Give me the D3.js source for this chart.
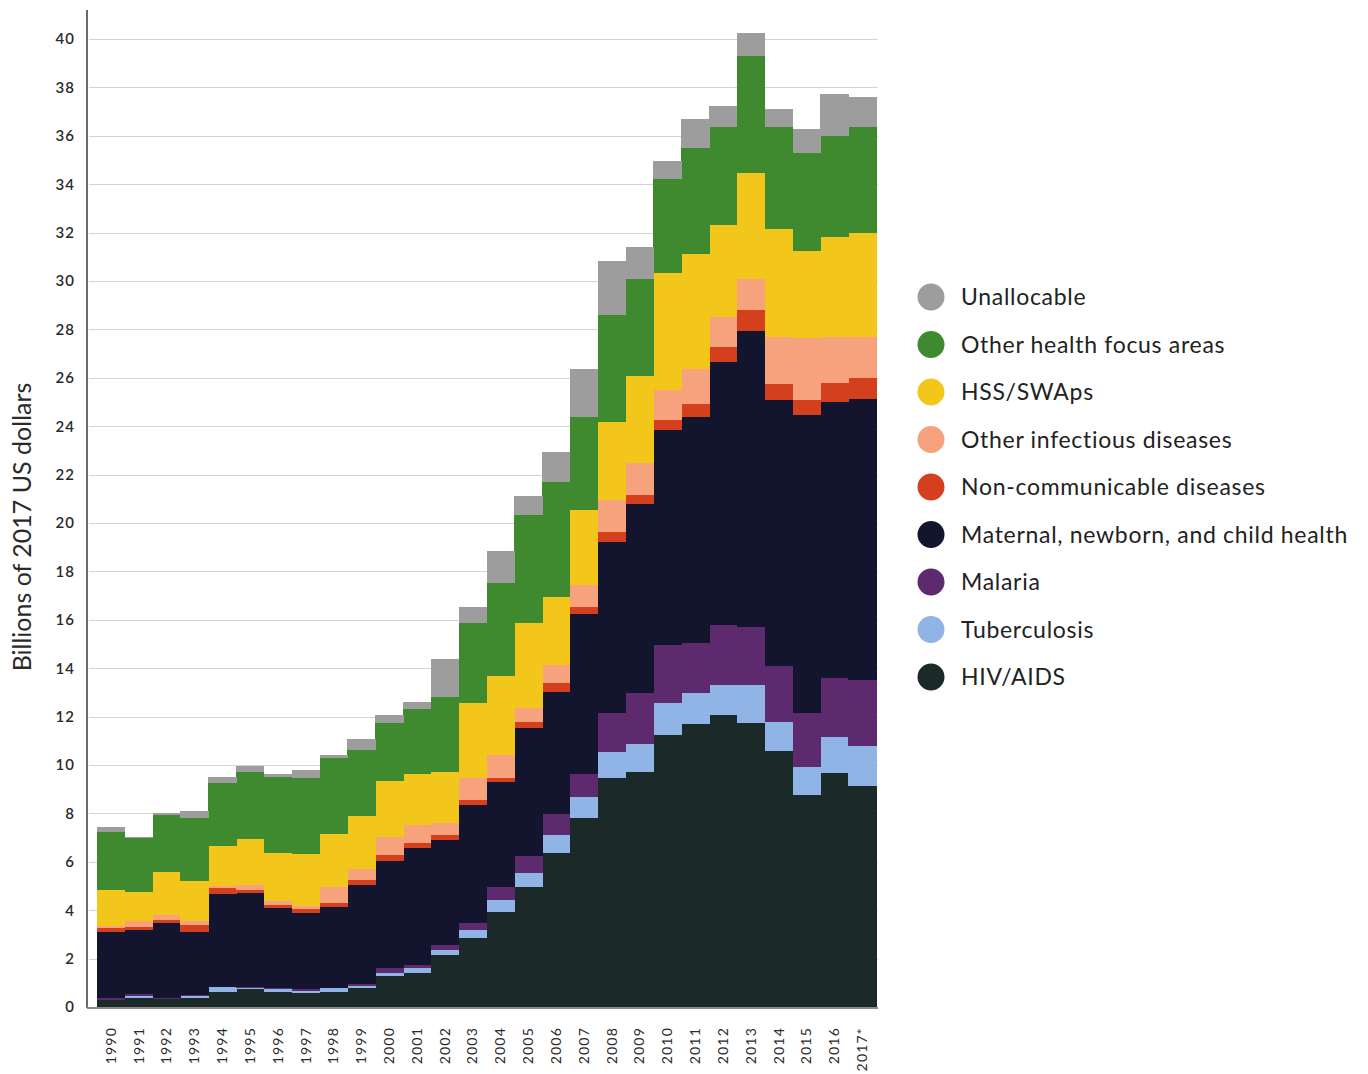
<!DOCTYPE html>
<html>
<head>
<meta charset="utf-8">
<script src="https://cdn.jsdelivr.net/npm/d3@7"></script>
<style>
  html, body { margin: 0; padding: 0; background: #fff; }
  svg { display: block; }
  text { font-family: Lato, "Open Sans", "DejaVu Sans", sans-serif; }
</style>
</head>
<body>
<svg id="chart" width="1368" height="1074"></svg>
<script>
// ---- Data (billions of 2017 US dollars) ----
const years = ["1990","1991","1992","1993","1994","1995","1996","1997","1998","1999",
  "2000","2001","2002","2003","2004","2005","2006","2007","2008","2009",
  "2010","2011","2012","2013","2014","2015","2016","2017*"];

const hivAids = [0.29,0.36,0.33,0.36,0.63,0.75,0.63,0.57,0.63,0.80,1.28,1.39,2.15,2.84,3.94,4.97,6.35,7.82,9.48,9.72,11.24,11.68,12.07,11.72,10.59,8.76,9.66,9.13];
const tuberculosis = [0.01,0.10,0.02,0.10,0.18,0.02,0.11,0.10,0.14,0.08,0.14,0.21,0.21,0.34,0.48,0.55,0.76,0.85,1.07,1.13,1.34,1.28,1.24,1.59,1.20,1.17,1.48,1.67];
const malaria = [0.06,0.07,0.03,0.05,0.03,0.07,0.05,0.07,0.03,0.08,0.18,0.14,0.20,0.31,0.53,0.72,0.85,0.96,1.58,2.11,2.38,2.09,2.48,2.41,2.30,2.23,2.44,2.71];
const mnch = [2.75,2.65,3.10,2.60,3.82,3.86,3.29,3.13,3.35,4.08,4.43,4.82,4.34,4.86,4.34,5.28,5.07,6.61,7.10,7.83,8.88,9.34,10.85,12.21,10.99,12.30,11.43,11.61];
const ncd = [0.17,0.14,0.12,0.28,0.24,0.13,0.13,0.18,0.16,0.21,0.25,0.20,0.21,0.20,0.19,0.27,0.37,0.28,0.41,0.37,0.42,0.53,0.65,0.87,0.66,0.62,0.78,0.88];
const otherInfectious = [0.07,0.25,0.20,0.18,0.11,0.21,0.17,0.14,0.66,0.44,0.76,0.76,0.48,0.93,0.93,0.55,0.73,0.92,1.31,1.31,1.24,1.43,1.24,1.27,1.96,2.55,1.88,1.67];
const hssSwaps = [1.48,1.17,1.77,1.63,1.66,1.89,1.97,2.12,2.16,2.20,2.30,2.11,2.13,3.07,3.27,3.51,2.83,3.10,3.24,3.60,4.82,4.75,3.78,4.38,4.44,3.62,4.16,4.30];
const otherHealth = [2.41,2.24,2.38,2.60,2.57,2.79,3.14,3.14,3.17,2.73,2.41,2.67,3.10,3.33,3.83,4.48,4.72,3.85,4.41,4.03,3.88,4.38,4.07,4.86,4.21,4.03,4.16,4.38];
const unallocable = [0.20,0.06,0.05,0.30,0.25,0.25,0.14,0.34,0.11,0.45,0.32,0.32,1.55,0.66,1.33,0.80,1.27,1.96,2.24,1.32,0.77,1.21,0.87,0.95,0.74,0.99,1.74,1.27];

// stacking order: bottom to top
const seriesKeys = ["HIV/AIDS","Tuberculosis","Malaria","Maternal, newborn, and child health",
  "Non-communicable diseases","Other infectious diseases","HSS/SWAps","Other health focus areas","Unallocable"];
const seriesValues = [hivAids, tuberculosis, malaria, mnch, ncd, otherInfectious, hssSwaps, otherHealth, unallocable];
const seriesColors = ["#1b2a28","#90b4e6","#5d2a6e","#13152f","#d4401e","#f6a27c","#f3c61b","#3f8a2f","#9d9d9d"];

const yTicks = d3.range(0, 41, 2);

// ---- Build table for d3.stack ----
const table = years.map((y, i) => {
  const row = { year: y };
  seriesKeys.forEach((k, j) => { row[k] = seriesValues[j][i]; });
  return row;
});
const stacked = d3.stack().keys(seriesKeys)(table);

// ---- Layout ----
const svg = d3.select("#chart");
const axisX = 87, plotLeft = 97, plotRight = 876, plotTop = 39, plotBottom = 1007;

const x = d3.scaleBand().domain(years).range([plotLeft, plotRight]).padding(0);
const y = d3.scaleLinear().domain([0, 40]).range([plotBottom, plotTop]);
const color = d3.scaleOrdinal().domain(seriesKeys).range(seriesColors);

// gridlines
svg.append("g")
  .selectAll("line")
  .data(yTicks.filter(d => d > 0))
  .join("line")
  .attr("x1", axisX + 2).attr("x2", plotRight + 2)
  .attr("y1", d => Math.round(y(d)) + 0.5).attr("y2", d => Math.round(y(d)) + 0.5)
  .attr("stroke", "#d4d4d4").attr("stroke-width", 1);

// bars
svg.append("g")
  .selectAll("g")
  .data(stacked)
  .join("g")
  .attr("fill", d => color(d.key))
  .selectAll("rect")
  .data(d => d)
  .join("rect")
  .attr("x", d => x(d.data.year))
  .attr("width", x.bandwidth() + 0.5)
  .attr("y", d => y(d[1]))
  .attr("height", d => Math.max(0, y(d[0]) - y(d[1])))
  .attr("shape-rendering", "crispEdges");

// y axis
const yAxis = d3.axisLeft(y).tickValues(yTicks).tickSize(0).tickPadding(12);
const gy = svg.append("g").attr("transform", `translate(${axisX},0)`).call(yAxis);
gy.select(".domain").remove();
gy.selectAll("text")
  .attr("font-size", 15).attr("fill", "#2a2a2a").attr("font-weight", 600)
  .attr("letter-spacing", 1)
  .style("font-family", "Lato, sans-serif");

// axis lines
svg.append("line")
  .attr("x1", axisX).attr("x2", axisX).attr("y1", 10).attr("y2", plotBottom + 1)
  .attr("stroke", "#6a6a6a").attr("stroke-width", 2);
svg.append("line")
  .attr("x1", axisX).attr("x2", plotRight + 2).attr("y1", plotBottom + 1).attr("y2", plotBottom + 1)
  .attr("stroke", "#8a8a8a").attr("stroke-width", 2);

// x axis labels
const xAxis = d3.axisBottom(x).tickSize(0).tickPadding(0);
const gx = svg.append("g").attr("transform", `translate(0,${plotBottom + 20})`).call(xAxis);
gx.select(".domain").remove();
gx.selectAll("text")
  .attr("transform", "rotate(-90)")
  .attr("x", 0).attr("y", 0).attr("dy", "0.35em")
  .attr("text-anchor", "end")
  .attr("font-size", 14).attr("letter-spacing", 1.2).attr("fill", "#2a2a2a")
  .style("font-family", "Lato, sans-serif");

// y title
svg.append("text")
  .attr("transform", `translate(31,527) rotate(-90)`)
  .attr("text-anchor", "middle")
  .attr("font-size", 25).attr("fill", "#2a2a2a")
  .text("Billions of 2017 US dollars");

// legend (top to bottom reverse of stack order)
const legendItems = seriesKeys.slice().reverse();
const legendY = d3.scalePoint().domain(legendItems).range([297, 677]);
const lg = svg.append("g");
const li = lg.selectAll("g").data(legendItems).join("g")
  .attr("transform", d => `translate(931,${legendY(d)})`);
li.append("circle").attr("r", 13.5).attr("fill", d => color(d));
li.append("text").attr("x", 30).attr("dy", "0.35em")
  .attr("font-size", 23).attr("letter-spacing", 0.7).attr("fill", "#222").text(d => d);
</script>
</body>
</html>
